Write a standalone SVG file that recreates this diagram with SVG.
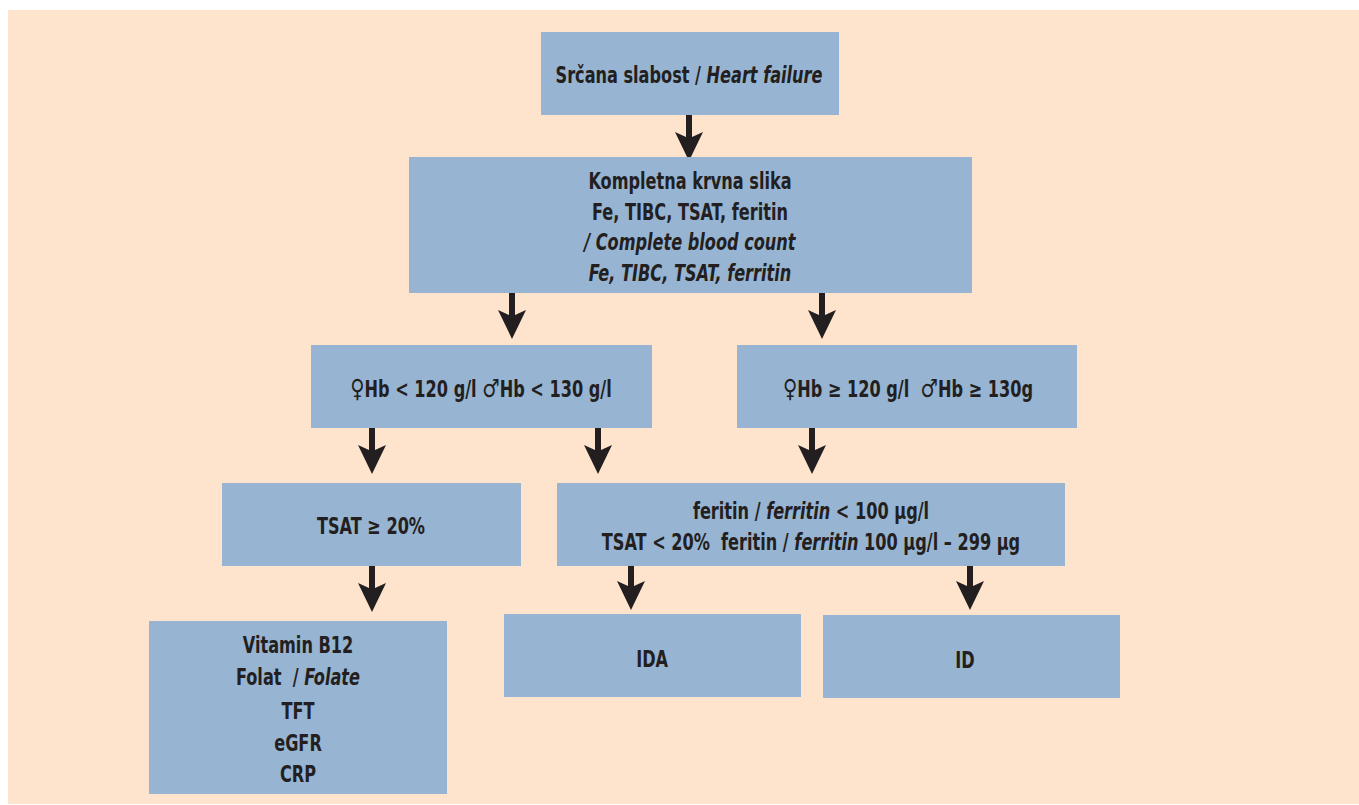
<svg xmlns="http://www.w3.org/2000/svg" width="1359" height="805" viewBox="0 0 1359 805">
<defs>
<style>
.box{fill:#97b4d2}
.t{font-family:"DejaVu Sans Condensed","Liberation Sans",sans-serif;font-weight:bold;font-size:23px;fill:#231f20;text-anchor:middle;white-space:pre;transform:scaleX(0.78);transform-box:fill-box;transform-origin:center}
.i{font-style:italic}
.sym{font-family:"DejaVu Sans",sans-serif;font-weight:normal;font-size:25px}
.head{fill:#231f20}
</style>
</defs>
<rect x="0" y="0" width="1359" height="805" fill="#ffffff"/>
<rect x="8" y="10" width="1351" height="794" fill="#fee4cc"/>

<g id="connectors">
<path class="head" d="M686 115h6v22l11-5l-14 29l-14-29l11 5z"/>
<path class="head" d="M509 293h6v22l11-5l-14 29l-14-29l11 5z"/>
<path class="head" d="M819 293h6v22l11-5l-14 29l-14-29l11 5z"/>
<path class="head" d="M369 428h6v22l11-5l-14 29l-14-29l11 5z"/>
<path class="head" d="M595 428h6v22l11-5l-14 29l-14-29l11 5z"/>
<path class="head" d="M809 428h6v22l11-5l-14 29l-14-29l11 5z"/>
<path class="head" d="M369 566h6v22l11-5l-14 29l-14-29l11 5z"/>
<path class="head" d="M628 566h6v20l11-5l-14 29l-14-29l11 5z"/>
<path class="head" d="M967 566h6v20l11-5l-14 29l-14-29l11 5z"/>
</g>

<g id="n1"><rect class="box" x="541" y="32" width="298" height="83"/>
<text class="t" x="689" y="83">Srčana slabost / <tspan class="i">Heart failure</tspan></text></g>

<g id="n2"><rect class="box" x="409" y="157" width="563" height="136"/>
<text class="t" x="690" y="189">Kompletna krvna slika</text>
<text class="t" x="690" y="220">Fe, TIBC, TSAT, feritin</text>
<text class="t i" x="690" y="250">/ Complete blood count</text>
<text class="t i" x="690" y="281">Fe, TIBC, TSAT, ferritin</text></g>

<g id="n3"><rect class="box" x="311" y="345" width="341" height="83"/>
<text class="t" x="481" y="397"><tspan class="sym">♀</tspan>Hb &lt; 120 g/l <tspan class="sym">♂</tspan>Hb &lt; 130 g/l</text></g>

<g id="n4"><rect class="box" x="737" y="345" width="340" height="83"/>
<text class="t" x="908" y="397"><tspan class="sym">♀</tspan>Hb ≥ 120 g/l  <tspan class="sym">♂</tspan>Hb ≥ 130g</text></g>

<g id="n5"><rect class="box" x="222" y="483" width="299" height="83"/>
<text class="t" x="371" y="534">TSAT ≥ 20%</text></g>

<g id="n6"><rect class="box" x="557" y="483" width="508" height="83"/>
<text class="t" x="811" y="519">feritin / <tspan class="i">ferritin</tspan> &lt; 100 µg/l</text>
<text class="t" x="811" y="550">TSAT &lt; 20%  feritin / <tspan class="i">ferritin</tspan> 100 µg/l – 299 µg</text></g>

<g id="n7"><rect class="box" x="149" y="621" width="298" height="173"/>
<text class="t" x="298" y="653">Vitamin B12</text>
<text class="t" x="298" y="685">Folat  / <tspan class="i">Folate</tspan></text>
<text class="t" x="298" y="719">TFT</text>
<text class="t" x="298" y="751">eGFR</text>
<text class="t" x="298" y="782">CRP</text></g>

<g id="n8"><rect class="box" x="504" y="614" width="297" height="83"/>
<text class="t" x="652" y="667">IDA</text></g>

<g id="n9"><rect class="box" x="823" y="615" width="297" height="83"/>
<text class="t" x="965" y="668">ID</text></g>
</svg>
